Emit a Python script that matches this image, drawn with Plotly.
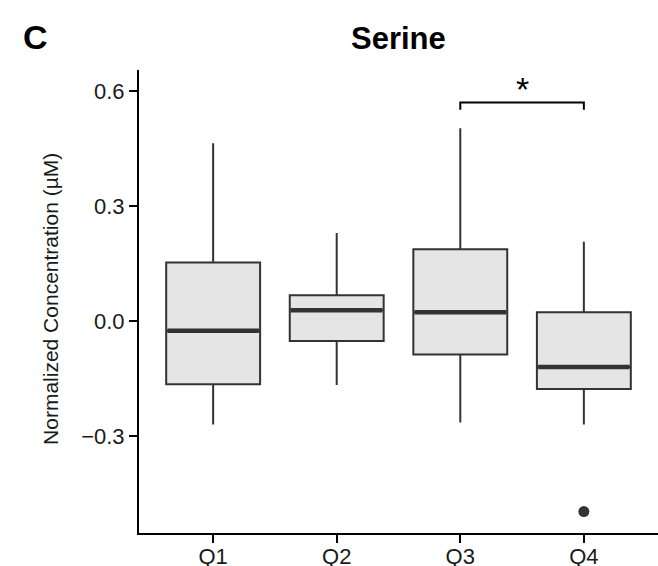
import plotly.graph_objects as go

# ---- data ----
categories = ["Q1", "Q2", "Q3", "Q4"]
upper_whisker = [0.464, 0.230, 0.503, 0.207]
q3_values = [0.153, 0.067, 0.187, 0.023]
medians = [-0.025, 0.028, 0.023, -0.120]
q1_values = [-0.165, -0.052, -0.087, -0.177]
lower_whisker = [-0.270, -0.167, -0.265, -0.270]
outlier_cat = ["Q4"]
outlier_values = [-0.497]
y_tick_vals = [-0.3, 0.0, 0.3, 0.6]
y_tick_text = ["\u22120.3", "0.0", "0.3", "0.6"]
sig_pair = ["Q3", "Q4"]
sig_bar_y = 0.570
sig_tip_y = 0.551
sig_label = "*"

FONT = "Liberation Sans, Arial, Helvetica, sans-serif"
BOX_W = 0.76
pos = {c: i for i, c in enumerate(categories)}

fig = go.Figure()

for i, c in enumerate(categories):
    fig.add_trace(go.Box(
        x=[pos[c]], q1=[q1_values[i]], median=[medians[i]], q3=[q3_values[i]],
        lowerfence=[lower_whisker[i]], upperfence=[upper_whisker[i]],
        width=BOX_W, whiskerwidth=0, boxpoints=False,
        fillcolor="#e5e5e5", line=dict(color="#333333", width=2),
        showlegend=False, hoverinfo="skip",
    ))
    # thick median line
    fig.add_trace(go.Scatter(
        x=[pos[c] - BOX_W / 2 + 0.01, pos[c] + BOX_W / 2 - 0.01],
        y=[medians[i], medians[i]], mode="lines",
        line=dict(color="#333333", width=4.5), showlegend=False, hoverinfo="skip",
    ))

# outlier
fig.add_trace(go.Scatter(
    x=[pos[c] for c in outlier_cat], y=outlier_values, mode="markers",
    marker=dict(color="#333333", size=11), showlegend=False, hoverinfo="skip",
))

# significance bracket
xa, xb = pos[sig_pair[0]], pos[sig_pair[1]]
fig.add_trace(go.Scatter(
    x=[xa, xa, xb, xb], y=[sig_tip_y, sig_bar_y, sig_bar_y, sig_tip_y],
    mode="lines", line=dict(color="black", width=2),
    showlegend=False, hoverinfo="skip",
))

annotations = [
    dict(text=sig_label, x=(xa + xb) / 2, y=sig_bar_y, xref="x", yref="y",
         xanchor="center", yanchor="bottom", yshift=-7, showarrow=False,
         font=dict(family=FONT, size=34, color="black")),
    dict(text="<b>Serine</b>", x=0.5, y=1.069, xref="paper", yref="paper",
         xanchor="center", yanchor="middle", showarrow=False,
         font=dict(family=FONT, size=31, color="black")),
    dict(text="<b>C</b>", x=-0.1985, y=1.072, xref="paper", yref="paper",
         xanchor="center", yanchor="middle", showarrow=False,
         font=dict(family=FONT, size=34, color="black")),
    dict(text="Normalized Concentration (\u00b5M)", x=-0.172, y=0.505,
         xref="paper", yref="paper", xanchor="center", yanchor="middle",
         textangle=-90, showarrow=False,
         font=dict(family=FONT, size=21, color="#1a1a1a")),
]

fig.update_layout(
    width=658, height=566,
    margin=dict(l=139, r=0, t=70, b=33),
    paper_bgcolor="white", plot_bgcolor="white",
    annotations=annotations,
    font=dict(family=FONT),
)
fig.update_xaxes(
    range=[-0.6, 3.6], tickmode="array", tickvals=list(range(len(categories))),
    ticktext=categories, showgrid=False, zeroline=False, automargin=False,
    showline=True, linecolor="black", linewidth=2,
    ticks="outside", ticklen=8, tickwidth=2, tickcolor="black",
    ticklabelstandoff=-5,
    tickfont=dict(family=FONT, size=22, color="#1a1a1a"),
)
fig.update_yaxes(
    range=[-0.553, 0.655], tickmode="array", tickvals=y_tick_vals,
    ticktext=y_tick_text, showgrid=False, zeroline=False, automargin=False,
    showline=True, linecolor="black", linewidth=2,
    ticks="outside", ticklen=8, tickwidth=2, tickcolor="black",
    tickfont=dict(family=FONT, size=22, color="#1a1a1a"),
)

fig.write_html("out.html", config={"displayModeBar": False},
               post_script="document.body.style.margin='0px';")
